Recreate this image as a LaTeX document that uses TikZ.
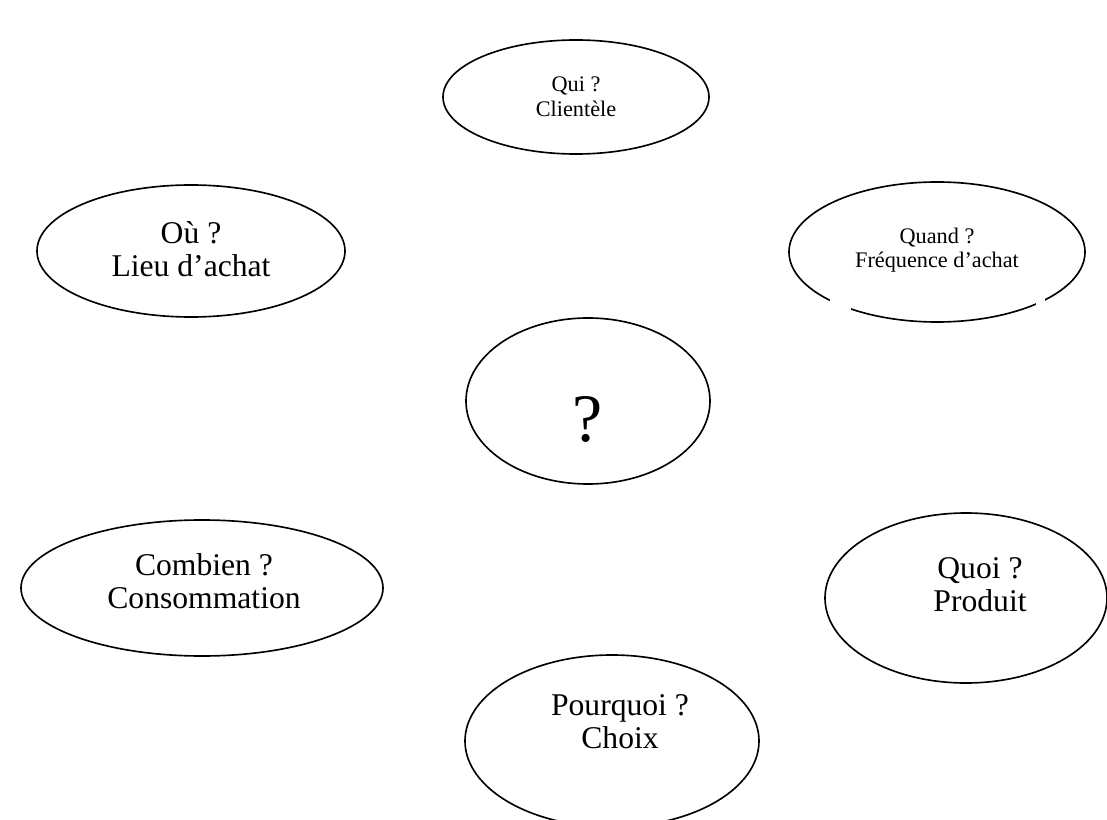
\documentclass[tikz,border=0pt]{standalone}
\usepackage{fontspec}
\setmainfont{Liberation Serif}
\usetikzlibrary{shapes.geometric}
\tikzset{bulle/.style={draw,ellipse,line width=1.4pt,inner sep=0pt},
  petit/.style={align=center,font=\fontsize{19}{21}\selectfont},
  grand/.style={align=center,font=\fontsize{27}{28}\selectfont}}
\begin{document}
\begin{tikzpicture}[x=0.03cm,y=-0.03cm]
\useasboundingbox (0,0) rectangle (1107,820);
\node[bulle,minimum width=266*0.03cm,minimum height=114*0.03cm] (qui) at (576,97) {};
\node[petit] (quitxt) at (576,97) {Qui ?\\Clientèle};
\node[bulle,minimum width=296*0.03cm,minimum height=140*0.03cm] (quand) at (937,252) {};
\fill[white] (830,289) rectangle (851,313);
\fill[white] (1036,298) rectangle (1045,316);
\node[petit] (quandtxt) at (937,250) {Quand ?\\Fréquence d’achat};
\node[bulle,minimum width=308*0.03cm,minimum height=132*0.03cm] (ou) at (191,251) {};
\node[grand] (outxt) at (191,249) {Où ?\\Lieu d’achat};
\node[bulle,minimum width=244*0.03cm,minimum height=166*0.03cm] (centre) at (588,401) {};
\node[font=\fontsize{58}{60}\selectfont] (question) at (588,419) {?};
\node[bulle,minimum width=362*0.03cm,minimum height=136*0.03cm] (combien) at (202,588) {};
\node[grand] (combientxt) at (204,581) {Combien ?\\Consommation};
\node[bulle,minimum width=282*0.03cm,minimum height=170*0.03cm] (quoi) at (966,598) {};
\node[grand] (quoitxt) at (980,585) {Quoi ?\\Produit};
\node[bulle,minimum width=294*0.03cm,minimum height=172*0.03cm] (pourquoi) at (612,741) {};
\node[grand] (pourquoitxt) at (620,722) {Pourquoi ?\\Choix};
\end{tikzpicture}
\end{document}
